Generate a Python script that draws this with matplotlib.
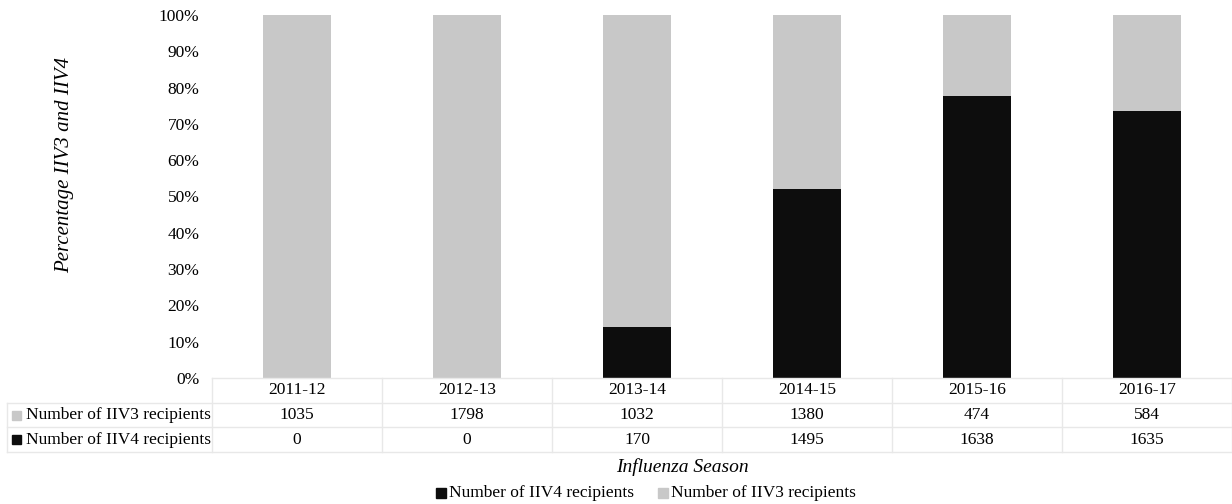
import numpy as np
import matplotlib.pyplot as plt
from matplotlib.transforms import blended_transform_factory
from matplotlib.lines import Line2D
from matplotlib.patches import Rectangle

plt.rcParams['font.family'] = ['Liberation Serif', 'DejaVu Serif']

# dados
temporadas = ["2011-12", "2012-13", "2013-14", "2014-15", "2015-16", "2016-17"]
iiv3 = [1035, 1798, 1032, 1380, 474, 584]
iiv4 = [0, 0, 170, 1495, 1638, 1635]
linhas = ["Number of IIV3 recipients", "Number of IIV4 recipients"]

cor_iiv4 = "#0d0d0d"
cor_iiv3 = "#c8c8c8"
cor_grade = "#e8e8e8"

W, H = 1232, 504
fig = plt.figure(figsize=(W / 100, H / 100), dpi=100)

def fy(py):  # pixel y (topo) -> fração da figura
    return 1 - py / H

ax = fig.add_axes([212 / W, fy(378), 1020 / W, (378 - 15) / H])

tot = np.array(iiv3) + np.array(iiv4)
p4 = np.array(iiv4) / tot
p3 = np.array(iiv3) / tot
x = np.arange(len(temporadas))
ax.bar(x, p4, width=0.4, color=cor_iiv4)
ax.bar(x, p3, width=0.4, bottom=p4, color=cor_iiv3)

ax.set_xlim(-0.5, len(temporadas) - 0.5)
ax.set_ylim(0, 1)
ax.set_yticks(np.arange(0, 1.01, 0.1))
ax.set_yticklabels(["%d%%" % round(v * 100) for v in np.arange(0, 1.01, 0.1)], fontsize=12.5)
ax.tick_params(axis="y", length=0, pad=9)
ax.set_xticks([])
for s in ax.spines.values():
    s.set_visible(False)

# eixo y label
fig.text(65 / W, fy(165), "Percentage IIV3 and IIV4", rotation=90, style="italic",
         fontsize=15, ha="center", va="center")

# tabela de dados
tr = blended_transform_factory(ax.transData, fig.transFigure)
ys = [378, 403, 427, 452]
for yy in ys[:1]:
    fig.add_artist(Line2D([212 / W, 1], [fy(yy)] * 2, color=cor_grade, lw=1))
for yy in ys[1:]:
    fig.add_artist(Line2D([7 / W, 1], [fy(yy)] * 2, color=cor_grade, lw=1))
fig.add_artist(Line2D([7 / W, 7 / W], [fy(403), fy(452)], color=cor_grade, lw=1))
for b in np.arange(-0.5, len(temporadas), 1):
    ax.add_artist(Line2D([b, b], [fy(378), fy(452)], color=cor_grade, lw=1,
                         transform=tr, clip_on=False))

for i, t in enumerate(temporadas):
    ax.text(i, fy(390), t, transform=tr, ha="center", va="center", fontsize=12.5)
    ax.text(i, fy(415), str(iiv3[i]), transform=tr, ha="center", va="center", fontsize=12.5)
    ax.text(i, fy(439.5), str(iiv4[i]), transform=tr, ha="center", va="center", fontsize=12.5)

for yy, nome, cor in [(415, linhas[0], cor_iiv3), (439.5, linhas[1], cor_iiv4)]:
    fig.add_artist(Rectangle((12 / W, fy(yy + 4.5)), 9 / W, 9 / H, color=cor))
    fig.text(26 / W, fy(yy), nome, ha="left", va="center", fontsize=12.5)

fig.text(682 / W, fy(467), "Influenza Season", style="italic", fontsize=14,
         ha="center", va="center")

# legenda
for x0, nome, cor in [(436, linhas[1], cor_iiv4), (658, linhas[0], cor_iiv3)]:
    fig.add_artist(Rectangle((x0 / W, fy(498)), 10 / W, 10 / H, color=cor))
    fig.text((x0 + 13) / W, fy(493), nome, ha="left", va="center", fontsize=12.5)

fig.savefig("out.png", dpi=100)
